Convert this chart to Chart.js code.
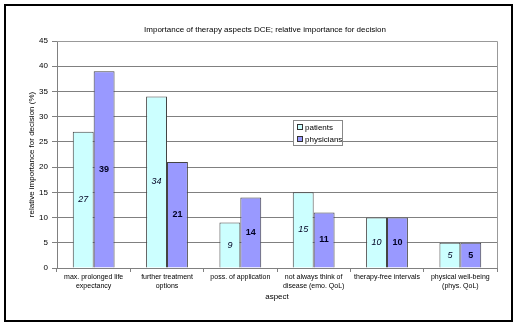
<!DOCTYPE html>
<html>
<head>
<meta charset="utf-8">
<script src="https://cdn.jsdelivr.net/npm/chart.js@4/dist/chart.umd.min.js"></script>
<style>
  html, body { margin: 0; padding: 0; background: #fff; }
  #wrap { position: relative; width: 520px; height: 329px; }
</style>
</head>
<body>
<div id="wrap"><canvas id="chart" width="520" height="329"></canvas></div>
<script>
// Daten
var aspects = [
    ['max. prolonged life', 'expectancy'],
    ['further treatment', 'options'],
    ['poss. of application'],
    ['not always think of', 'disease (emo. QoL)'],
    ['therapy-free intervals'],
    ['physical well-being', '(phys. QoL)']
];
var patients = [27, 34, 9, 15, 10, 5];
var physicians = [39, 21, 14, 11, 10, 5];
var yTicks = [0, 5, 10, 15, 20, 25, 30, 35, 40, 45];

var FONT = '"Liberation Sans", Arial, sans-serif';

// Rahmen, Titel, Achsentitel, Legende
var decor = {
    id: 'decor',
    beforeDraw: function (chart) {
        var ctx = chart.ctx;
        ctx.save();
        ctx.fillStyle = '#fff';
        ctx.fillRect(0, 0, chart.width, chart.height);
        ctx.strokeStyle = '#000';
        ctx.lineWidth = 2;
        ctx.strokeRect(5, 5, 507, 316);
        ctx.restore();
    },
    afterDraw: function (chart) {
        var ctx = chart.ctx;
        var a = chart.chartArea;
        ctx.save();
        // Rahmen der Zeichenfläche
        ctx.strokeStyle = '#999';
        ctx.lineWidth = 1;
        ctx.beginPath();
        ctx.moveTo(a.left, a.top + 0.5);
        ctx.lineTo(a.right + 0.5, a.top + 0.5);
        ctx.lineTo(a.right + 0.5, a.bottom);
        ctx.stroke();

        ctx.fillStyle = '#000';
        ctx.textAlign = 'center';
        ctx.textBaseline = 'middle';
        ctx.font = '8px ' + FONT;
        ctx.fillText('Importance of therapy aspects DCE; relative importance for decision', 265, 30);
        ctx.fillText('aspect', (a.left + a.right) / 2, 297);

        ctx.save();
        ctx.translate(32, (a.top + a.bottom) / 2);
        ctx.rotate(-Math.PI / 2);
        ctx.fillText('relative importance for decision (%)', 0, 0);
        ctx.restore();

        // Legende
        ctx.fillStyle = '#fff';
        ctx.fillRect(293, 120, 49, 25);
        ctx.strokeStyle = '#888';
        ctx.strokeRect(293.5, 120.5, 49, 25);
        var items = [['patients', '#CCFFFF', 127], ['physicians', '#9999FF', 139]];
        items.forEach(function (it) {
            ctx.fillStyle = it[1];
            ctx.fillRect(297, it[2] - 3, 6, 6);
            ctx.strokeStyle = '#333';
            ctx.strokeRect(297.5, it[2] - 2.5, 5, 5);
            ctx.fillStyle = '#000';
            ctx.textAlign = 'left';
            ctx.font = '8px ' + FONT;
            ctx.fillText(it[0], 305, it[2] + 0.5);
        });

        // Werte in den Balken
        chart.data.datasets.forEach(function (ds, i) {
            var meta = chart.getDatasetMeta(i);
            ctx.font = (i === 0 ? 'italic ' : 'bold ') + '9px ' + FONT;
            ctx.fillStyle = '#000022';
            ctx.textAlign = 'center';
            meta.data.forEach(function (bar, j) {
                ctx.fillText(ds.data[j], bar.x, (bar.y + bar.base) / 2);
            });
        });
        ctx.restore();
    }
};

new Chart(document.getElementById('chart'), {
    type: 'bar',
    data: {
        labels: aspects,
        datasets: [{
            label: 'patients',
            data: patients,
            backgroundColor: '#CCFFFF',
            borderColor: '#444',
            borderWidth: 1,
            categoryPercentage: 0.57,
            barPercentage: 1
        }, {
            label: 'physicians',
            data: physicians,
            backgroundColor: '#9999FF',
            borderColor: '#444',
            borderWidth: 1,
            categoryPercentage: 0.57,
            barPercentage: 1
        }]
    },
    options: {
        responsive: false,
        animation: false,
        layout: { padding: { top: 41, right: 23, left: 0, bottom: 0 } },
        plugins: {
            legend: { display: false },
            title: { display: false },
            tooltip: { enabled: false }
        },
        scales: {
            x: {
                afterFit: function (s) { s.height = 61; },
                grid: {
                    offset: true,
                    drawOnChartArea: false,
                    drawTicks: true,
                    tickLength: 4,
                    color: '#808080'
                },
                border: { color: '#808080' },
                ticks: {
                    color: '#000',
                    font: { family: FONT, size: 7 },
                    padding: 1,
                    maxRotation: 0,
                    autoSkip: false
                }
            },
            y: {
                min: 0,
                max: 45,
                afterFit: function (s) { s.width = 57; },
                afterBuildTicks: function (s) {
                    s.ticks = yTicks.map(function (v) { return { value: v }; });
                },
                grid: {
                    color: '#808080',
                    tickLength: 5
                },
                border: { color: '#808080' },
                ticks: {
                    color: '#000',
                    font: { family: FONT, size: 8 },
                    padding: 4
                }
            }
        }
    },
    plugins: [decor]
});
</script>
</body>
</html>
